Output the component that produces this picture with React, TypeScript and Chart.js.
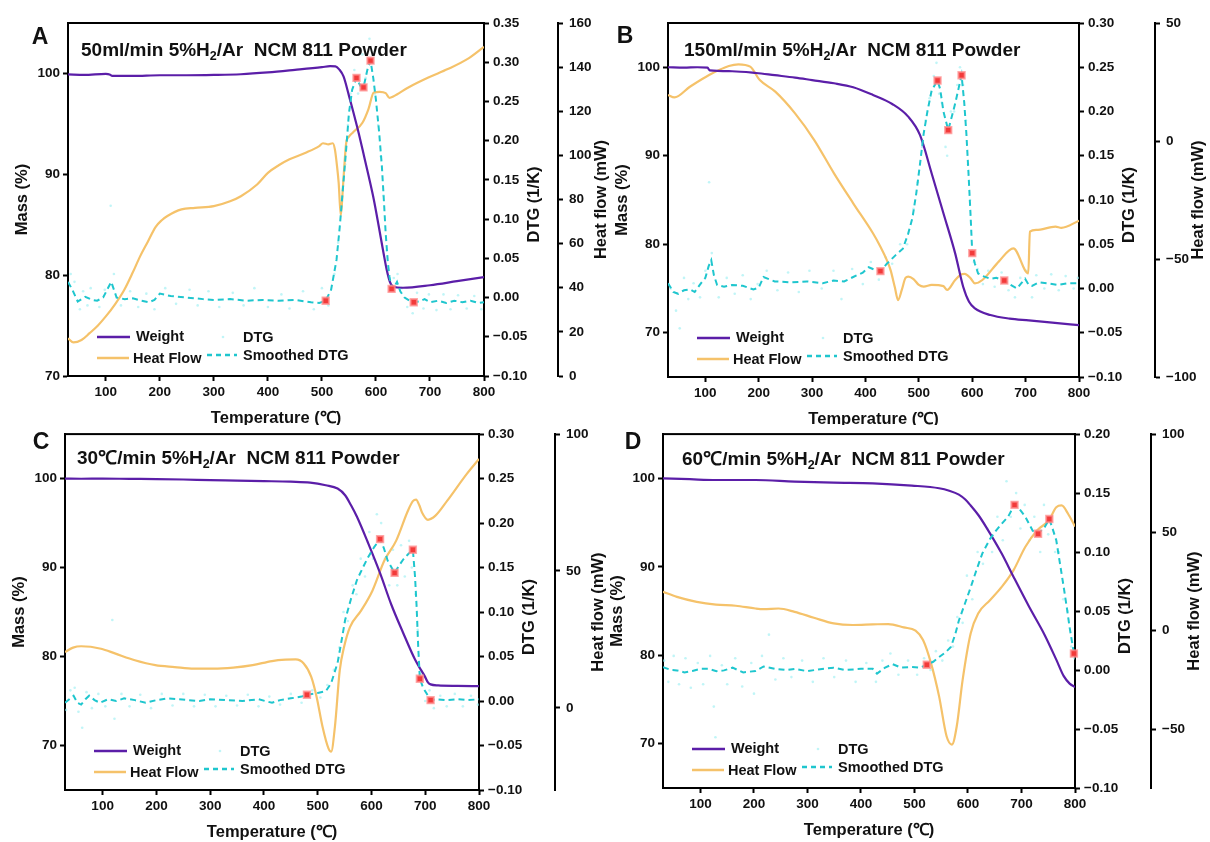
import React, { useEffect, useRef } from "react";
import { Chart, registerables } from "chart.js";
Chart.register(...registerables);

type Pts = number[][];

// ---------------- tick labels ----------------
const xTickVals = [100, 200, 300, 400, 500, 600, 700, 800];
const massTickVals = [70, 80, 90, 100];
const A_dtgTicks = [-0.1, -0.05, 0, 0.05, 0.1, 0.15, 0.2, 0.25, 0.3, 0.35];
const B_dtgTicks = [-0.1, -0.05, 0, 0.05, 0.1, 0.15, 0.2, 0.25, 0.3];
const C_dtgTicks = [-0.1, -0.05, 0, 0.05, 0.1, 0.15, 0.2, 0.25, 0.3];
const D_dtgTicks = [-0.1, -0.05, 0, 0.05, 0.1, 0.15, 0.2];
const A_heatTicks = [0, 20, 40, 60, 80, 100, 120, 140, 160];
const B_heatTicks = [-100, -50, 0, 50];
const C_heatTicks = [0, 50, 100];
const D_heatTicks = [-50, 0, 50, 100];

// ---------------- Panel A: 50ml/min ----------------
const A_weight: Pts = [[30,99.9],[60,99.85],[100,99.95],[107,99.9],[112,99.75],[150,99.75],[200,99.82],[250,99.82],[300,99.85],[350,99.92],[400,100.1],[450,100.35],[500,100.62],[515,100.72],[525,100.7],[532,100.4],[540,99.7],[550,97.8],[557,96.4],[568,94.1],[578,91.8],[587,89.7],[596,87.5],[605,84.9],[614,82.2],[620,80.5],[626,79.3],[632,78.85],[650,78.75],[700,79.0],[750,79.4],[800,79.8]];
const A_heat: Pts = [[30,17.1],[40,15.2],[55,16.3],[70,19.4],[85,22.8],[100,27],[117,32.5],[134,39],[150,47],[163,54],[178,61],[192,67.5],[203,70.5],[214,72.5],[240,75.5],[265,76.2],[300,77],[330,79.2],[350,81.5],[380,86.8],[400,92.1],[420,95.5],[440,98.2],[470,101.2],[495,104.2],[502,105.5],[512,105],[520,105.5],[524,102.7],[528,95],[531,87.6],[535,72.7],[539,86.1],[542,97],[545,105.8],[550,108.5],[557,110.3],[575,114.8],[586,120.9],[596,128.5],[607,128.8],[618,128.2],[625,126.1],[632,126.7],[660,130.8],[697,135.3],[733,139.1],[769,143.6],[800,149.2]];
const A_dtgSmooth: Pts = [[30,0.02],[38,0.01],[48,-0.005],[62,0.001],[75,-0.003],[84,-0.004],[95,0.0],[110,0.02],[120,0.0],[135,-0.002],[150,-0.001],[165,-0.004],[180,-0.006],[190,-0.003],[200,0.005],[220,0.002],[250,0.0],[280,-0.002],[300,-0.003],[330,-0.002],[360,-0.004],[390,-0.003],[420,-0.004],[450,-0.003],[480,-0.006],[495,-0.007],[507,-0.004],[517,0.01],[527,0.048],[533,0.09],[539,0.14],[545,0.19],[550,0.235],[556,0.265],[564,0.28],[571,0.27],[577,0.268],[584,0.29],[590,0.302],[595,0.28],[600,0.252],[606,0.21],[611,0.167],[615,0.12],[618,0.082],[622,0.045],[625,0.027],[629,0.011],[635,0.015],[639,0.02],[645,0.008],[653,0.0],[662,-0.004],[670,-0.006],[680,-0.005],[690,-0.002],[700,-0.006],[715,-0.004],[730,-0.007],[745,-0.004],[760,-0.006],[775,-0.004],[790,-0.007],[800,-0.006]];
const A_dtgRaw: Pts = [[35,0.03],[42,0.02],[52,-0.015],[58,0.008],[66,-0.01],[72,0.012],[88,-0.012],[98,0.01],[109,0.117],[115,0.03],[128,-0.01],[145,0.008],[160,-0.012],[175,0.005],[190,-0.015],[210,0.012],[230,-0.008],[255,0.01],[270,-0.01],[290,0.008],[310,-0.012],[335,0.006],[355,-0.01],[375,0.012],[400,-0.012],[425,0.004],[440,-0.014],[465,0.008],[485,-0.015],[500,0.012],[512,-0.01],[523,0.03],[530,0.07],[536,0.12],[543,0.17],[548,0.22],[553,0.26],[560,0.29],[567,0.26],[575,0.31],[581,0.28],[588,0.33],[594,0.3],[598,0.26],[604,0.22],[609,0.18],[614,0.13],[620,0.06],[626,0.02],[633,0.025],[640,0.03],[648,0.012],[658,-0.012],[668,-0.02],[676,0.006],[688,-0.014],[698,0.004],[712,-0.016],[725,0.004],[738,-0.015],[752,0.003],[768,-0.014],[782,0.002],[795,-0.015]];
const A_peaks: Pts = [[507,-0.004],[564,0.28],[577,0.268],[590,0.302],[629,0.011],[670,-0.006]];

// ---------------- Panel B: 150ml/min ----------------
const B_weight: Pts = [[30,100],[60,99.95],[85,100],[104,99.95],[108,99.65],[150,99.55],[195,99.35],[230,99.1],[268,98.83],[300,98.55],[341,98.19],[377,97.74],[414,96.87],[450,95.85],[480,94.42],[502,92.35],[524,88.0],[546,83.5],[568,78.97],[583,75.2],[594,73.5],[605,72.75],[634,72.0],[670,71.6],[706,71.4],[750,71.15],[800,70.86]];
const B_heat: Pts = [[30,19.5],[42,18.5],[71,23],[107,28],[144,31.8],[162,32.5],[184,31.5],[202,25.8],[231,20.9],[268,11.7],[304,0.4],[341,-13.7],[377,-26.4],[414,-39.1],[428,-44.8],[440,-50.5],[447,-54.7],[455,-62],[461,-67.4],[468,-63.1],[475,-58],[480,-57.5],[490,-58.5],[500,-61],[509,-61.7],[524,-61],[546,-61.5],[553,-63.1],[568,-58.9],[580,-56.5],[586,-56.3],[597,-58.2],[605,-60.3],[619,-58.9],[650,-51],[677,-45.5],[705,-56.1],[708,-38.4],[720,-37.7],[756,-36.3],[767,-36.8],[800,-33.8]];
const B_dtgSmooth: Pts = [[30,0.006],[40,-0.004],[49,-0.006],[60,-0.002],[71,-0.001],[80,-0.004],[93,0.007],[100,0.012],[106,0.025],[111,0.032],[116,0.015],[122,0.004],[135,0.002],[150,0.004],[170,0.003],[190,-0.001],[200,0.001],[209,0.013],[230,0.008],[260,0.007],[290,0.008],[320,0.006],[340,0.009],[360,0.008],[377,0.013],[395,0.018],[406,0.024],[418,0.021],[428,0.0196],[440,0.028],[457,0.038],[470,0.045],[480,0.062],[488,0.08],[495,0.107],[502,0.14],[509,0.175],[516,0.2],[524,0.224],[535,0.235],[540,0.225],[546,0.2],[555,0.179],[562,0.195],[568,0.209],[574,0.225],[580,0.241],[585,0.21],[589,0.175],[593,0.13],[597,0.081],[600,0.04],[605,0.028],[611,0.017],[620,0.014],[634,0.011],[645,0.012],[660,0.009],[672,0.004],[684,0.0],[692,0.006],[699,0.011],[706,0.004],[712,0.003],[725,0.007],[740,0.006],[760,0.004],[780,0.006],[800,0.006]];
const B_dtgRaw: Pts = [[35,0.0],[45,-0.025],[52,-0.045],[60,0.012],[68,-0.012],[78,0.006],[90,-0.01],[100,0.02],[107,0.12],[112,0.04],[125,-0.01],[140,0.012],[155,-0.006],[170,0.015],[185,-0.012],[198,0.005],[215,0.02],[235,-0.002],[255,0.018],[275,-0.004],[295,0.02],[318,0.0],[340,0.02],[355,-0.012],[375,0.022],[395,0.005],[410,0.03],[425,0.01],[438,0.035],[450,0.028],[465,0.05],[478,0.05],[490,0.09],[498,0.12],[506,0.16],[513,0.19],[520,0.215],[528,0.24],[533,0.255],[538,0.22],[543,0.21],[550,0.16],[553,0.15],[560,0.2],[566,0.2],[572,0.23],[577,0.25],[583,0.23],[588,0.19],[592,0.14],[596,0.1],[603,0.03],[610,0.022],[620,0.005],[630,0.02],[642,0.002],[655,0.018],[668,-0.002],[680,-0.01],[690,0.012],[702,0.02],[712,-0.01],[720,0.015],[735,0.0],[748,0.016],[762,-0.002],[775,0.014],[790,0.0],[798,0.012]];
const B_peaks: Pts = [[428,0.0196],[535,0.235],[555,0.179],[580,0.241],[600,0.04],[660,0.009]];

// ---------------- Panel C: 30℃/min ----------------
const C_weight: Pts = [[30,100],[60,99.98],[100,100.0],[150,99.97],[200,99.95],[250,99.9],[300,99.83],[350,99.78],[400,99.72],[450,99.65],[486,99.55],[515,99.25],[537,98.88],[551,98.13],[562,97.0],[573,95.71],[594,92.72],[616,89.37],[637,85.82],[659,82.65],[681,79.66],[692,78.5],[699,77.8],[705,77.1],[710,76.87],[724,76.75],[760,76.7],[800,76.68]];
const C_heat: Pts = [[30,20.4],[45,22],[60,22.5],[97,21.6],[124,19.8],[160,17.4],[198,15.6],[234,14.9],[270,14.3],[306,14.3],[343,14.7],[379,15.6],[415,17.1],[440,17.6],[459,17.7],[474,16.2],[488,11.3],[498,4.0],[509,-6.9],[520,-14.8],[525,-16.0],[532,-6.9],[541,13.7],[549,22.2],[560,29.5],[581,35.6],[602,42.9],[624,53.8],[646,61.1],[668,72.1],[677,75.5],[683,76.1],[689,74],[694,71.4],[705,68.7],[719,70.2],[741,75.7],[777,85.4],[800,90.9]];
const C_dtgSmooth: Pts = [[30,-0.002],[38,0.002],[46,0.006],[53,-0.002],[60,-0.004],[68,0.002],[75,0.006],[85,0.001],[95,-0.002],[110,0.002],[125,0.0],[140,0.003],[160,0.001],[180,-0.002],[200,0.001],[220,0.003],[240,0.002],[260,0.001],[280,0.0],[300,0.002],[330,0.001],[360,0.0],[390,0.002],[415,-0.002],[430,0.001],[450,0.003],[470,0.005],[480,0.007],[500,0.009],[515,0.011],[525,0.02],[537,0.043],[545,0.07],[551,0.091],[562,0.115],[573,0.136],[584,0.15],[594,0.162],[605,0.173],[616,0.182],[623,0.172],[630,0.158],[643,0.144],[651,0.152],[659,0.159],[668,0.165],[677,0.17],[681,0.14],[684,0.106],[687,0.06],[690,0.025],[696,0.015],[702,0.009],[710,0.001],[720,0.002],[740,0.001],[760,0.002],[780,0.001],[800,0.002]];
const C_dtgRaw: Pts = [[32,-0.01],[40,0.012],[48,0.015],[55,-0.012],[62,-0.03],[70,0.01],[80,-0.008],[92,0.008],[105,-0.006],[118,0.091],[122,-0.02],[135,0.008],[150,-0.006],[170,0.007],[190,-0.008],[210,0.008],[230,-0.005],[250,0.008],[270,-0.006],[290,0.007],[310,-0.006],[330,0.006],[350,-0.005],[370,0.007],[390,-0.006],[410,0.005],[430,-0.004],[450,0.008],[470,-0.002],[490,0.012],[505,0.004],[518,0.018],[530,0.035],[540,0.06],[548,0.1],[556,0.09],[565,0.13],[572,0.12],[580,0.16],[588,0.14],[596,0.19],[603,0.16],[610,0.21],[618,0.2],[625,0.16],[633,0.13],[640,0.17],[648,0.13],[655,0.175],[662,0.14],[670,0.18],[675,0.15],[682,0.12],[686,0.08],[692,0.03],[700,0.0],[708,0.012],[716,-0.008],[728,0.006],[740,-0.006],[755,0.008],[770,-0.006],[785,0.006],[798,-0.004]];
const C_peaks: Pts = [[480,0.007],[616,0.182],[643,0.144],[677,0.17],[690,0.025],[710,0.001]];

// ---------------- Panel D: 60℃/min ----------------
const D_weight: Pts = [[30,100],[80,99.9],[129,99.81],[203,99.81],[276,99.63],[349,99.51],[422,99.44],[495,99.18],[546,98.88],[565,98.6],[583,98.16],[595,97.6],[605,96.93],[620,95.8],[634,94.49],[663,91.5],[685,88.88],[714,85.51],[743,82.33],[765,79.51],[779,77.64],[790,76.8],[800,76.4]];
const D_heat: Pts = [[30,19.8],[56,17.2],[93,14.7],[129,13.3],[166,12.7],[203,11.3],[218,11.0],[246,11.3],[276,9.6],[312,6.6],[349,3.7],[385,2.9],[422,3.2],[451,3.4],[480,1.7],[502,0],[516,-4.7],[531,-16.6],[546,-33.4],[560,-53.7],[570,-57.9],[579,-48.6],[590,-25],[605,-1.4],[619,8.8],[641,15.5],[663,22.3],[685,30.7],[707,42.6],[729,51.0],[751,56.1],[765,62.8],[775,63.7],[787,59.5],[800,53.0]];
const D_dtgSmooth: Pts = [[30,0.0025],[45,0.0],[56,-0.0003],[70,-0.002],[85,-0.0008],[100,0.001],[115,0.001],[130,-0.001],[144,-0.0003],[160,0.002],[180,-0.002],[203,-0.0008],[218,0.003],[240,0.001],[260,0.0],[276,0.001],[300,-0.001],[320,0.0005],[349,0.002],[370,0.0],[400,0.001],[422,0.001],[430,-0.003],[445,0.002],[459,0.005],[475,0.002],[495,0.0025],[510,0.002],[523,0.0045],[535,0.007],[546,0.011],[558,0.015],[568,0.0195],[576,0.03],[583,0.042],[594,0.056],[605,0.07],[616,0.085],[627,0.099],[641,0.111],[652,0.118],[663,0.124],[675,0.13],[687,0.14],[697,0.136],[707,0.13],[714,0.124],[721,0.118],[731,0.1155],[743,0.121],[752,0.128],[758,0.12],[765,0.11],[772,0.09],[779,0.07],[785,0.052],[790,0.036],[798,0.014]];
const D_dtgRaw: Pts = [[32,0.008],[40,-0.01],[50,0.012],[60,-0.012],[72,0.01],[82,-0.015],[95,0.006],[105,-0.012],[118,0.012],[125,-0.031],[128,-0.057],[140,0.004],[150,-0.012],[165,0.01],[178,-0.014],[195,0.006],[200,-0.02],[215,0.012],[228,0.03],[240,-0.008],[255,0.01],[270,-0.006],[290,0.008],[310,-0.01],[330,0.01],[350,-0.006],[372,0.008],[390,-0.01],[410,0.006],[428,-0.01],[440,0.008],[455,0.014],[470,-0.004],[488,0.008],[505,-0.004],[518,0.01],[530,0.0],[540,0.016],[552,0.008],[563,0.025],[572,0.02],[580,0.045],[590,0.04],[598,0.08],[608,0.06],[618,0.1],[628,0.09],[636,0.12],[645,0.1],[655,0.13],[665,0.11],[672,0.16],[680,0.13],[690,0.15],[698,0.12],[706,0.14],[715,0.11],[724,0.13],[735,0.1],[742,0.14],[750,0.115],[756,0.13],[763,0.1],[770,0.1],[778,0.06],[786,0.05],[793,0.02],[799,0.01]];
const D_peaks: Pts = [[523,0.0045],[687,0.14],[731,0.1155],[752,0.128],[798,0.014]];

// ---------------- styling ----------------
const FONT = '"Liberation Sans", Arial, Helvetica, sans-serif';
const C_WEIGHT = "#5B1EA8";
const C_HEAT = "#F5C26A";
const C_DTG = "#1FC6CE";
const C_RAW = "rgba(150,238,242,0.6)";
const C_PEAK = "#F23A3A";

interface PanelCfg {
  letter: string;
  titleA: string;
  titleB: string;
  box: { left: number; top: number; w: number; h: number };
  padTop: number; massW: number; dtgW: number; heatW: number; xH: number;
  massRange: number[]; dtgRange: number[]; heatRange: number[];
  dtgTicks: number[]; heatTicks: number[];
  letterPos: number[]; titlePos: number[];
  weight: Pts; heat: Pts; dtgSmooth: Pts; dtgRaw: Pts; peaks: Pts;
}

const panels: PanelCfg[] = [
  { letter: "A", titleA: "50ml/min 5%H", titleB: "/Ar  NCM 811 Powder",
    box: { left: 0, top: 0, w: 615, h: 425 }, padTop: 23, massW: 68, dtgW: 74, heatW: 57, xH: 49,
    massRange: [70, 105], dtgRange: [-0.1, 0.35], heatRange: [0, 160],
    dtgTicks: A_dtgTicks, heatTicks: A_heatTicks, letterPos: [40, 38], titlePos: [81, 49],
    weight: A_weight, heat: A_heat, dtgSmooth: A_dtgSmooth, dtgRaw: A_dtgRaw, peaks: A_peaks },
  { letter: "B", titleA: "150ml/min 5%H", titleB: "/Ar  NCM 811 Powder",
    box: { left: 605, top: 0, w: 605, h: 425 }, padTop: 23, massW: 63, dtgW: 76, heatW: 55, xH: 48,
    massRange: [65, 105], dtgRange: [-0.1, 0.3], heatRange: [-100, 50],
    dtgTicks: B_dtgTicks, heatTicks: B_heatTicks, letterPos: [20, 37], titlePos: [79, 49],
    weight: B_weight, heat: B_heat, dtgSmooth: B_dtgSmooth, dtgRaw: B_dtgRaw, peaks: B_peaks },
  { letter: "C", titleA: "30\u2103/min 5%H", titleB: "/Ar  NCM 811 Powder",
    box: { left: 0, top: 420, w: 615, h: 422 }, padTop: 13, massW: 65, dtgW: 76, heatW: 60, xH: 52,
    massRange: [65, 105], dtgRange: [-0.1, 0.3], heatRange: [-30, 100],
    dtgTicks: C_dtgTicks, heatTicks: C_heatTicks, letterPos: [41, 23], titlePos: [77, 37],
    weight: C_weight, heat: C_heat, dtgSmooth: C_dtgSmooth, dtgRaw: C_dtgRaw, peaks: C_peaks },
  { letter: "D", titleA: "60\u2103/min 5%H", titleB: "/Ar  NCM 811 Powder",
    box: { left: 605, top: 420, w: 605, h: 422 }, padTop: 13, massW: 58, dtgW: 76, heatW: 59, xH: 54,
    massRange: [65, 105], dtgRange: [-0.1, 0.2], heatRange: [-80, 100],
    dtgTicks: D_dtgTicks, heatTicks: D_heatTicks, letterPos: [28, 23], titlePos: [77, 38],
    weight: D_weight, heat: D_heat, dtgSmooth: D_dtgSmooth, dtgRaw: D_dtgRaw, peaks: D_peaks },
];

const toXY = (p: Pts) => p.map(([x, y]) => ({ x, y }));
const minus = (s: string) => s.replace("-", "\u2212");
const fmtDtg = (v: number) => (Math.abs(v) < 1e-9 ? "0.00" : minus(v.toFixed(2)));
const fmtInt = (v: number) => minus(String(Math.round(v)));

const gridCfg = { drawOnChartArea: false, drawTicks: true, tickLength: 5, tickWidth: 2, tickColor: "#000", color: "#000" };
const borderCfg = { display: true, color: "#000", width: 2 };
const tickFont = { size: 13.5, weight: "bold", family: FONT };

function yAxis(position: string, weight: number, range: number[], vals: number[], fmt: (v: number) => string, width: number, pad: number) {
  return {
    type: "linear", position, weight, min: range[0], max: range[1],
    grid: gridCfg, border: borderCfg,
    ticks: { color: "#111", font: tickFont, padding: pad, autoSkip: false, callback: (v: any) => fmt(Number(v)) },
    afterBuildTicks: (s: any) => { s.ticks = vals.map((v) => ({ value: v })); },
    afterFit: (s: any) => { s.width = width; },
  };
}

function overlay(cfg: PanelCfg) {
  const F = (n: number) => `bold ${n}px ${FONT}`;
  return {
    id: "overlay" + cfg.letter,
    beforeDatasetsDraw(chart: any) {
      const { ctx, chartArea: ca } = chart;
      ctx.save();
      ctx.strokeStyle = "#000"; ctx.lineWidth = 2;
      ctx.strokeRect(ca.left, ca.top, ca.right - ca.left, ca.bottom - ca.top);
      ctx.restore();
    },
    afterDraw(chart: any) {
      const { ctx, chartArea: ca } = chart;
      ctx.save();
      ctx.fillStyle = "#111";
      // panel letter
      ctx.font = F(23); ctx.textAlign = "center"; ctx.textBaseline = "middle";
      ctx.fillText(cfg.letter, cfg.letterPos[0], cfg.letterPos[1]);
      // title with subscript
      ctx.textAlign = "left"; ctx.textBaseline = "alphabetic";
      let x = cfg.titlePos[0]; const by = cfg.titlePos[1] + 7;
      ctx.font = F(19); ctx.fillText(cfg.titleA, x, by); x += ctx.measureText(cfg.titleA).width;
      ctx.font = F(12.5); ctx.fillText("2", x, by + 4); x += ctx.measureText("2").width;
      ctx.font = F(19); ctx.fillText(cfg.titleB, x, by);
      // axis titles
      const cy = (ca.top + ca.bottom) / 2;
      const vtext = (t: string, tx: number, ty: number) => {
        ctx.save(); ctx.translate(tx, ty); ctx.rotate(-Math.PI / 2);
        ctx.textAlign = "center"; ctx.textBaseline = "middle"; ctx.fillText(t, 0, 0); ctx.restore();
      };
      ctx.font = F(16.5);
      vtext("Mass (%)", ca.left - 46, cy);
      vtext("DTG (1/K)", ca.right + 50, cy + 5);
      vtext("Heat flow (mW)", ca.right + cfg.dtgW + 43, cy);
      ctx.textAlign = "center"; ctx.textBaseline = "middle";
      ctx.fillText("Temperature (\u2103)", (ca.left + ca.right) / 2, ca.bottom + 42);
      // legend
      const L = ca.left + 29, r1 = ca.bottom - 39, r2 = ca.bottom - 18;
      ctx.lineWidth = 2.5;
      ctx.strokeStyle = C_WEIGHT; ctx.beginPath(); ctx.moveTo(L, r1); ctx.lineTo(L + 33, r1); ctx.stroke();
      ctx.strokeStyle = C_HEAT; ctx.beginPath(); ctx.moveTo(L, r2); ctx.lineTo(L + 32, r2); ctx.stroke();
      ctx.strokeStyle = C_DTG; ctx.setLineDash([5, 4]); ctx.beginPath(); ctx.moveTo(L + 110, r2 - 3); ctx.lineTo(L + 140, r2 - 3); ctx.stroke();
      ctx.setLineDash([]);
      ctx.fillStyle = C_RAW; ctx.beginPath(); ctx.arc(L + 126, r1, 1.3, 0, Math.PI * 2); ctx.fill();
      ctx.fillStyle = "#111"; ctx.font = F(14.5); ctx.textAlign = "left"; ctx.textBaseline = "middle";
      ctx.fillText("Weight", L + 39, r1);
      ctx.fillText("Heat Flow", L + 36, r2 + 1);
      ctx.fillText("DTG", L + 146, r1 + 1);
      ctx.fillText("Smoothed DTG", L + 146, r2 - 2);
      ctx.restore();
    },
  };
}

function buildConfig(cfg: PanelCfg): any {
  return {
    type: "scatter",
    data: {
      datasets: [
        { label: "peaks", data: toXY(cfg.peaks), yAxisID: "yd", showLine: false, pointStyle: "rect", pointRadius: 4.5,
          backgroundColor: C_PEAK, borderColor: "rgba(255,140,140,0.75)", borderWidth: 2, clip: false },
        { label: "Smoothed DTG", data: toXY(cfg.dtgSmooth), yAxisID: "yd", showLine: true, borderColor: C_DTG,
          borderWidth: 2, borderDash: [6, 4], pointRadius: 0, tension: 0 },
        { label: "Weight", data: toXY(cfg.weight), yAxisID: "y", showLine: true, borderColor: C_WEIGHT,
          borderWidth: 2.2, pointRadius: 0, cubicInterpolationMode: "monotone" },
        { label: "Heat Flow", data: toXY(cfg.heat), yAxisID: "yh", showLine: true, borderColor: C_HEAT,
          borderWidth: 2.2, pointRadius: 0, cubicInterpolationMode: "monotone" },
        { label: "DTG", data: toXY(cfg.dtgRaw), yAxisID: "yd", showLine: false, pointRadius: 1.3,
          backgroundColor: C_RAW, borderWidth: 0 },
      ],
    },
    options: {
      responsive: false, animation: false, devicePixelRatio: 1, events: [],
      layout: { padding: { top: cfg.padTop, left: 0, right: 0, bottom: 0 } },
      plugins: { legend: { display: false }, tooltip: { enabled: false }, title: { display: false } },
      scales: {
        x: {
          type: "linear", position: "bottom", min: 30, max: 800,
          grid: gridCfg, border: borderCfg,
          ticks: { color: "#111", font: tickFont, padding: 3, maxRotation: 0, autoSkip: false, callback: (v: any) => String(v) },
          afterBuildTicks: (s: any) => { s.ticks = xTickVals.map((v) => ({ value: v })); },
          afterFit: (s: any) => { s.height = cfg.xH; },
        },
        y: yAxis("left", 0, cfg.massRange, massTickVals, fmtInt, cfg.massW, 3),
        yd: yAxis("right", 0, cfg.dtgRange, cfg.dtgTicks, fmtDtg, cfg.dtgW, 4),
        yh: yAxis("right", 1, cfg.heatRange, cfg.heatTicks, fmtInt, cfg.heatW, 6),
      },
    },
    plugins: [overlay(cfg)],
  };
}

function Panel({ cfg }: { cfg: PanelCfg }) {
  const ref = useRef<HTMLCanvasElement>(null);
  useEffect(() => {
    if (!ref.current) return;
    const chart = new Chart(ref.current, buildConfig(cfg));
    return () => chart.destroy();
  }, [cfg]);
  return (
    <canvas ref={ref} width={cfg.box.w} height={cfg.box.h}
      style={{ position: "absolute", left: cfg.box.left, top: cfg.box.top, width: cfg.box.w, height: cfg.box.h, display: "block" }} />
  );
}

export default function App() {
  return (
    <div style={{ position: "absolute", left: 0, top: 0, width: 1210, height: 842, background: "#fff", overflow: "hidden" }}>
      {panels.map((p) => <Panel key={p.letter} cfg={p} />)}
    </div>
  );
}
